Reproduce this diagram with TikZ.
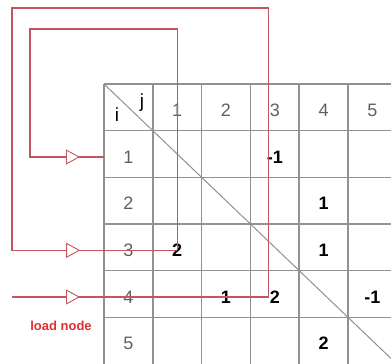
\documentclass[tikz,border=0pt]{standalone}
\usepackage{fontspec}
\setmainfont{Liberation Sans}
\usetikzlibrary{arrows.meta,decorations.markings}
\definecolor{gridgray}{RGB}{145,145,145}
\definecolor{headgray}{RGB}{95,95,95}
\definecolor{wirered}{RGB}{195,85,95}
\definecolor{labelred}{RGB}{225,45,45}

\begin{document}
\begin{tikzpicture}[
    x=1pt, y=-1pt,
    cell/.style={inner sep=0pt, font=\fontsize{18}{18}\selectfont},
    head/.style={cell, text=headgray},
    entry/.style={cell, font=\fontsize{18}{18}\selectfont\bfseries},
    gridline/.style={gridgray, line width=1.6pt},
    wire/.style={wirered, line width=1.1pt},
    feed/.style={postaction={decorate}, decoration={markings, mark=at position #1 with {\arrow{Triangle[fill=white, length=14pt, width=15pt, line width=0.9pt]}}}}
]
    \useasboundingbox (0,0) rectangle (391,364);
    \clip (0,0) rectangle (391,364);

    % table grid
    \coordinate (gridTL) at (104,84);
    \foreach \c in {0,...,6}
        \draw[gridline] (104+48.8*\c,84) -- (104+48.8*\c,370);
    \foreach \r in {0,...,5}
        \draw[gridline] (104,84+46.67*\r) -- (400,84+46.67*\r);
    \draw[gridgray, line width=1pt] (gridTL) -- (396.8,364);

    % headers
    \node[cell, font=\fontsize{19}{19}\selectfont] (jlab) at (142,103) {j};
    \node[cell, font=\fontsize{19}{19}\selectfont] (ilab) at (117,115) {i};
    \foreach \n in {1,...,5} {
        \node[head] (c\n) at (128.4+48.8*\n,110) {\n};
        \node[head] (r\n) at (128.4,84+46.67*\n+26.3) {\n};
    }

    % matrix entries
    \foreach \r/\c/\v in {1/3/-1, 2/4/1, 3/1/2, 3/4/1, 4/2/1, 4/3/2, 4/5/-1, 5/4/2}
        \node[entry] (v\r\c) at (128.4+48.8*\c,84+46.67*\r+26.3) {\v};

    \node[font=\fontsize{13}{13}\selectfont\bfseries, text=labelred] (loadlab) at (61,326) {load node};

    % feedback wires
    \coordinate (outTL) at (12,8);
    \coordinate (inTL) at (30,29);
    \coordinate (hook) at ([xshift=-6pt]v43.center);
    \draw[wire, feed=-24pt] (v31.center) -- (v31 |- inTL) -- (inTL) -- (inTL |- r1) -- (r1 -| gridTL);
    \draw[wire, feed=-97pt] (hook) -- (hook |- outTL) -- (outTL) -- (outTL |- v31) -- (v31.center);
    \draw[wire, feed=68pt] (hook -| outTL) -- (hook);
\end{tikzpicture}
\end{document}
